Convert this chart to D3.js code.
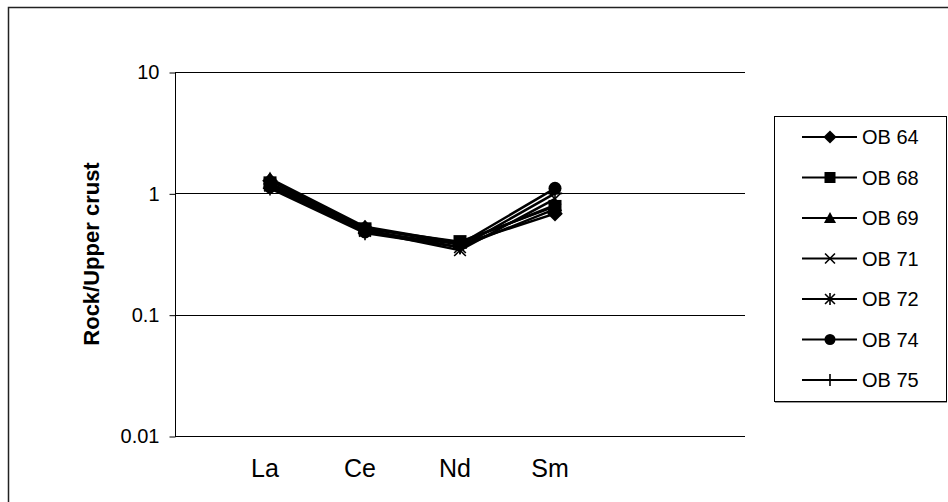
<!DOCTYPE html>
<html>
<head>
<meta charset="utf-8">
<script src="https://cdn.jsdelivr.net/npm/d3@7/dist/d3.min.js"></script>
<style>
  html, body { margin: 0; padding: 0; background: #fff; }
  svg { display: block; font-family: "Liberation Sans", Arial, sans-serif; }
</style>
</head>
<body>
<svg id="chart" width="948" height="502"></svg>
<script>
// REE patterns normalised to upper crust
const elements = ["La", "Ce", "Nd", "Sm"];
const sampleNames = ["OB 64", "OB 68", "OB 69", "OB 71", "OB 72", "OB 74", "OB 75"];
const markerTypes = ["diamond", "square", "triangle", "x", "star", "circle", "plus"];
const ob64 = [1.27, 0.52, 0.38, 0.68];
const ob68 = [1.22, 0.51, 0.40, 0.78];
const ob69 = [1.32, 0.53, 0.39, 0.80];
const ob71 = [1.16, 0.49, 0.34, 0.90];
const ob72 = [1.20, 0.50, 0.36, 0.74];
const ob74 = [1.13, 0.48, 0.38, 1.10];
const ob75 = [1.10, 0.47, 0.36, 1.00];
const yTicks = [0.01, 0.1, 1, 10];
const yTickLabels = ["0.01", "0.1", "1", "10"];

const seriesValues = [ob64, ob68, ob69, ob71, ob72, ob74, ob75];
const series = sampleNames.map((name, i) => ({
  name, marker: markerTypes[i],
  points: elements.map((el, j) => ({ el, idx: j + 1, v: seriesValues[i][j] }))
}));

const svg = d3.select("#chart");
const plot = { left: 175, right: 745, top: 72, bottom: 436 };

// category axis: elements sit on tick positions 1..4 of a 0..6 axis
const x = d3.scaleLinear().domain([0, 6]).range([plot.left, plot.right]);
const y = d3.scaleLog().domain([0.01, 10]).range([plot.bottom, plot.top]);

// chart frame
svg.append("rect")
  .attr("x", 8.5).attr("y", 7.5).attr("width", 960).attr("height", 520)
  .attr("fill", "#fff").attr("stroke", "#222").attr("stroke-width", 1.5);

// horizontal gridlines
svg.append("g").selectAll("line")
  .data(yTicks.filter(t => t > 0.01))
  .join("line")
  .attr("x1", plot.left).attr("x2", plot.right)
  .attr("y1", d => Math.round(y(d)) + 0.5).attr("y2", d => Math.round(y(d)) + 0.5)
  .attr("stroke", "#000").attr("stroke-width", 1);

// y axis
const yAxis = d3.axisLeft(y).tickValues(yTicks)
  .tickFormat((d, i) => yTickLabels[i]).tickSize(6).tickPadding(10);
const gy = svg.append("g").attr("transform", `translate(${plot.left + 0.5},0.5)`).call(yAxis);
gy.select(".domain").attr("stroke", "#000").attr("d", `M0,${plot.top}V${plot.bottom}`);
gy.selectAll(".tick line").attr("stroke", "#000");
gy.selectAll(".tick text").attr("font-size", 20).attr("fill", "#000")
  .attr("font-family", "'Liberation Sans', Arial, sans-serif");

// x axis line
svg.append("line")
  .attr("x1", plot.left).attr("x2", plot.right)
  .attr("y1", plot.bottom + 0.5).attr("y2", plot.bottom + 0.5)
  .attr("stroke", "#000");

// category labels
svg.append("g").selectAll("text")
  .data(elements)
  .join("text")
  .attr("x", (d, i) => x(i + 1) - 5)
  .attr("y", 477)
  .attr("text-anchor", "middle")
  .attr("font-size", 25)
  .text(d => d);

// y axis title
svg.append("text")
  .attr("transform", `translate(99,${(plot.top + plot.bottom) / 2}) rotate(-90)`)
  .attr("text-anchor", "middle")
  .attr("font-size", 22).attr("font-weight", "bold")
  .text("Rock/Upper crust");

// marker drawing
function drawMarker(g, type, size) {
  const s = size;
  if (type === "diamond") {
    g.append("path").attr("d", `M0,${-s * 0.6}L${s * 0.6},0L0,${s * 0.6}L${-s * 0.6},0Z`).attr("fill", "#000");
  } else if (type === "square") {
    g.append("rect").attr("x", -s / 2).attr("y", -s / 2).attr("width", s).attr("height", s).attr("fill", "#000");
  } else if (type === "triangle") {
    g.append("path").attr("d", `M0,${-s * 0.55}L${s * 0.55},${s * 0.45}L${-s * 0.55},${s * 0.45}Z`).attr("fill", "#000");
  } else if (type === "circle") {
    g.append("circle").attr("r", s / 2).attr("fill", "#000");
  } else if (type === "x") {
    const h = s * 0.45;
    g.append("path").attr("d", `M${-h},${-h}L${h},${h}M${-h},${h}L${h},${-h}`)
      .attr("stroke", "#000").attr("stroke-width", 1.6).attr("fill", "none");
  } else if (type === "star") {
    const h = s * 0.45;
    g.append("path").attr("d", `M${-h},${-h}L${h},${h}M${-h},${h}L${h},${-h}M0,${-h * 1.2}L0,${h * 1.2}`)
      .attr("stroke", "#000").attr("stroke-width", 1.6).attr("fill", "none");
  } else if (type === "plus") {
    const h = s * 0.55;
    g.append("path").attr("d", `M0,${-h}L0,${h}M${-h},0L${h},0`)
      .attr("stroke", "#000").attr("stroke-width", 1.6).attr("fill", "none");
  }
}

// series lines and markers
const line = d3.line().x(d => x(d.idx)).y(d => y(d.v));
const gs = svg.append("g").selectAll("g").data(series).join("g");
gs.append("path")
  .attr("d", d => line(d.points))
  .attr("fill", "none").attr("stroke", "#000").attr("stroke-width", 2.5);
gs.each(function (s) {
  d3.select(this).selectAll("g.pt").data(s.points).join("g")
    .attr("class", "pt")
    .attr("transform", d => `translate(${x(d.idx)},${y(d.v)})`)
    .each(function () { drawMarker(d3.select(this), s.marker, 13); });
});

// legend
const lg = svg.append("g");
lg.append("rect")
  .attr("x", 774.5).attr("y", 116.5).attr("width", 172).attr("height", 285)
  .attr("fill", "#fff").attr("stroke", "#000").attr("stroke-width", 1);
lg.append("line").attr("x1", 775).attr("x2", 947).attr("y1", 402.5).attr("y2", 402.5)
  .attr("stroke", "#999").attr("stroke-width", 1);
const items = lg.selectAll("g.item").data(series).join("g")
  .attr("class", "item")
  .attr("transform", (d, i) => `translate(0,${137 + i * 40.5})`);
items.append("line").attr("x1", 802).attr("x2", 857).attr("y1", 0).attr("y2", 0)
  .attr("stroke", "#000").attr("stroke-width", 2);
items.each(function (s) {
  const g = d3.select(this).append("g").attr("transform", "translate(830,0)");
  drawMarker(g, s.marker, 11);
});
items.append("text").attr("x", 862).attr("y", 7)
  .attr("font-size", 20).text(d => d.name);
</script>
</body>
</html>
